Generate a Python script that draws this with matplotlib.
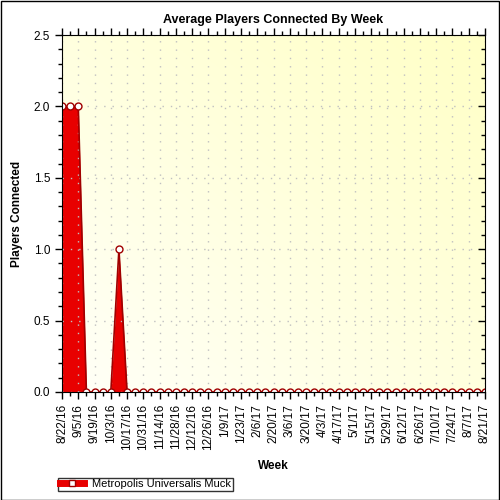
import matplotlib.pyplot as plt
import numpy as np
from matplotlib.lines import Line2D
from matplotlib.patches import Rectangle

plt.rcParams['font.family'] = ['Liberation Sans', 'DejaVu Sans']

series_name = "Metropolis Universalis Muck"
players = [2, 2, 2, 0, 0, 0, 0, 1, 0] + [0] * 44
weeks = list(range(len(players)))
tick_labels = ["8/22/16", "9/5/16", "9/19/16", "10/3/16", "10/17/16", "10/31/16",
               "11/14/16", "11/28/16", "12/12/16", "12/26/16", "1/9/17", "1/23/17",
               "2/6/17", "2/20/17", "3/6/17", "3/20/17", "4/3/17", "4/17/17",
               "5/1/17", "5/15/17", "5/29/17", "6/12/17", "6/26/17", "7/10/17",
               "7/24/17", "8/7/17", "8/21/17"]

fig = plt.figure(figsize=(5, 5), dpi=100)
fig.patches.append(Rectangle((0.001, 0.001), 0.997, 0.997, transform=fig.transFigure,
                             fill=False, edgecolor='black', lw=1))
ax = fig.add_axes([0.124, 0.216, 0.846, 0.714])

# background gradient, whiter bottom-left to yellow top-right
gx, gy = np.meshgrid(np.linspace(0, 1, 200), np.linspace(0, 1, 200))
t = (gx + gy) / 2
grad = np.zeros((200, 200, 3))
grad[..., 0] = 1.0
grad[..., 1] = 1.0
grad[..., 2] = (248 - 50 * t) / 255
ax.imshow(grad, extent=[0, 1, 0, 1], transform=ax.transAxes, origin='lower',
          aspect='auto', zorder=0)

ax.fill_between(weeks, players, 0, color='#E80000', lw=0, zorder=2)
ax.plot(weeks, players, color='#A00000', lw=1.2, zorder=3)
ax.plot(weeks, players, ls='none', marker='o', ms=5, mfc='white', mec='#A00000',
        mew=1, zorder=4)

ax.set_xlim(0, 52)
ax.set_ylim(0, 2.5)
ax.set_xticks(weeks[::2])
ax.set_xticklabels(tick_labels, rotation=90, fontsize=8.5)
ax.set_xticks(weeks, minor=True)
ax.set_yticks(np.arange(0, 2.51, 0.5))
ax.set_yticklabels(["0.0", "0.5", "1.0", "1.5", "2.0", "2.5"], fontsize=8.5)
ax.set_yticks(np.arange(0, 2.51, 0.1), minor=True)
ax.tick_params(axis='both', which='major', direction='out', length=5, width=1)
ax.tick_params(axis='both', which='minor', direction='out', length=3, width=1)
ax.tick_params(axis='x', which='both', top=True, labeltop=False)
ax.tick_params(axis='y', which='both', right=True, labelright=False)
for tk in ax.yaxis.get_major_ticks() + ax.yaxis.get_minor_ticks():
    tk.tick2line.set_marker(0)  # right side ticks point inward
ax.grid(True, which='major', color='#c0c0c0', ls=(0, (1, 5)), lw=1, zorder=1)
ax.set_axisbelow(False)
for s in ax.spines.values():
    s.set_zorder(5)

ax.set_title("Average Players Connected By Week", fontsize=9, fontweight='bold', pad=9)
ax.set_xlabel("Week", fontsize=8.5, fontweight='bold', labelpad=7)
ax.set_ylabel("Players Connected", fontsize=8.5, fontweight='bold', labelpad=8)

handle = Line2D([], [], color='#E80000', lw=5, marker='s', ms=5, mfc='white', mec='#A00000')
fig.legend([handle], [series_name], loc='lower left', bbox_to_anchor=(0.116, 0.018),
           fontsize=8, frameon=True, fancybox=False, edgecolor='black',
           borderpad=0.15, handlelength=2.2, handletextpad=0.7, borderaxespad=0)

fig.savefig("out.png", dpi=100)
